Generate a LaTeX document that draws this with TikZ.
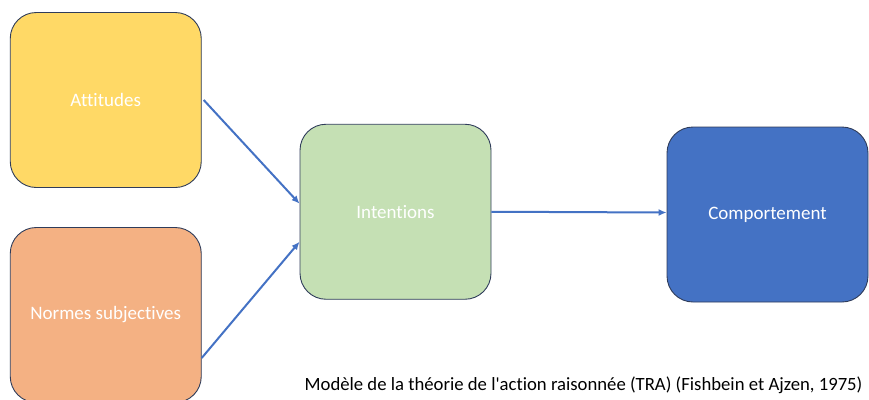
\documentclass[tikz,border=0pt]{standalone}
\usepackage{fontspec}
\setmainfont{Carlito}[Ligatures={TeXOff,CommonOff}]
\usetikzlibrary{calc,arrows.meta}
\definecolor{boxyellow}{RGB}{255,217,102}
\definecolor{boxorange}{RGB}{244,177,131}
\definecolor{boxgreen}{RGB}{197,224,180}
\definecolor{boxblue}{RGB}{68,114,196}
\definecolor{boxline}{RGB}{47,60,90}
\definecolor{arrowblue}{RGB}{68,114,196}
\newcommand{\widthbox}{191pt}
\newcommand{\heightbox}{175pt}
\tikzset{
    common/.style={draw=boxline, line width=0.9pt, rectangle, rounded corners=26pt,
        minimum width=\widthbox, minimum height=\heightbox, inner sep=0pt,
        text=white, font=\fontsize{19}{22}\selectfont},
    factor/.style={common},
    link/.style={-{Latex[length=8pt,width=7pt]}, draw=arrowblue, line width=2pt}
}
\begin{document}
\begin{tikzpicture}[x=1pt, y=-1pt]
    \useasboundingbox (0,0) rectangle (869,399);
    \clip (0,0) rectangle (869,399);

    \node[factor, fill=boxyellow] (att) at (105.75,100) {Attitudes};
    \node[factor, fill=boxorange] (norm) at (105.75,315) {Normes subjectives};
    \node[factor, fill=boxgreen] (int) at (395.5,211.75) {Intentions};
    \node[factor, fill=boxblue, minimum width=201pt] (comp) at (767.5,214.5) {Comportement};

    \draw[link] ([xshift=2pt]att.east) -- ([yshift=8pt]int.west);
    \draw[link] ([yshift=-43pt]norm.east) -- ([yshift=-30pt]int.west);
    \draw[link] (int.east) -- ([yshift=2pt]comp.west);

    % source du modele
    \node[anchor=base east, font=\fontsize{18.7}{22}\selectfont] (src) at (866,390)
        {Modèle de la théorie de l'action raisonnée (TRA) (Fishbein et Ajzen, 1975)};
\end{tikzpicture}
\end{document}
